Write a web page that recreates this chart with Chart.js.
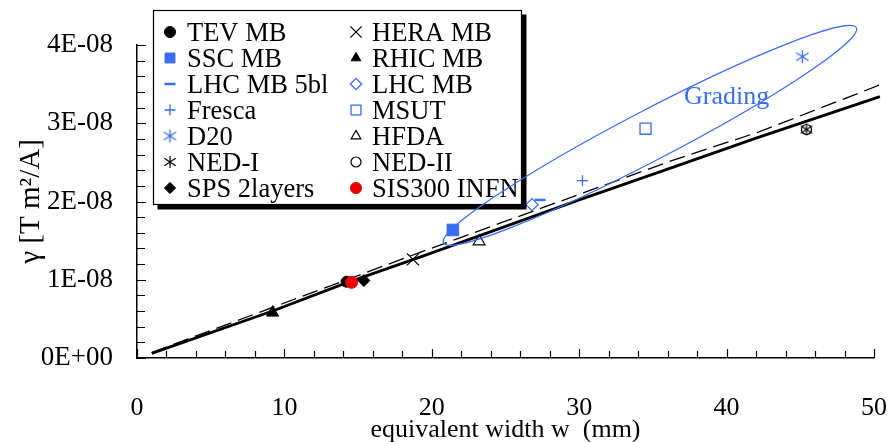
<!DOCTYPE html>
<html>
<head>
<meta charset="utf-8">
<script src="https://cdn.jsdelivr.net/npm/chart.js@4.4.1/dist/chart.umd.min.js"></script>
<style>
html,body{margin:0;padding:0;background:#fff;}
canvas{display:block;}
</style>
</head>
<body>
<canvas id="c" width="891" height="442"></canvas>
<script>
// ---------------- data ----------------
const seriesNames = ['TEV MB','SSC MB','LHC MB 5bl','Fresca','D20','NED-I','SPS 2layers',
                     'HERA MB','RHIC MB','LHC MB','MSUT','HFDA','NED-II','SIS300 INFN'];
const widthMm   = [14.22, 21.43, 27.35, 30.22, 45.14, 45.42, 15.39,
                   18.72, 9.20, 26.80, 34.50, 23.21, 45.42, 14.56];
const gammaTm2A = [0.975e-8, 1.636e-8, 2.02e-8, 2.266e-8, 3.85e-8, 2.92e-8, 0.99e-8,
                   1.26e-8, 0.58e-8, 1.96e-8, 2.93e-8, 1.49e-8, 2.92e-8, 0.967e-8];

// solid fit line
const fitW          = [1.0, 9.2, 14.2, 19.2, 30.0, 36.1, 42.0, 50.4];
const fitGammaSolid = [0.06e-8, 0.60e-8, 0.96e-8, 1.29e-8, 2.02e-8, 2.42e-8, 2.81e-8, 3.34e-8];
// dashed fit line
const dashW          = [1.0, 19.2, 36.1, 42.2, 50.4];
const fitGammaDashed = [0.07e-8, 1.35e-8, 2.51e-8, 2.89e-8, 3.49e-8];

const xTickLabels = ['0','10','20','30','40','50'];
const yTickLabels = ['0E+00','1E-08','2E-08','3E-08','4E-08'];
const xTitle = 'equivalent width w  (mm)';
const yTitle = 'γ [T m²/A]';

// "Grading" annotation: ellipse tips (data units) and label position
const gradingLabel = 'Grading';
const gradingW = 40.0, gradingG = 3.335e-8;
const ellipseTipW = [20.8, 48.8];
const ellipseTipG = [1.47e-8, 4.22e-8];

// ---------------- styles ----------------
const BLUE = '#3a6cf2';
const BLACK = '#000000';
const NONE = 'rgba(0,0,0,0)';
const FONT = "'Liberation Serif', 'Times New Roman', serif";

function asterisk(color, size, lw) {
  const c = document.createElement('canvas');
  c.width = size; c.height = size;
  const g = c.getContext('2d');
  const m = size / 2, r = size / 2 - 1;
  g.strokeStyle = color; g.lineWidth = lw;
  g.beginPath();
  g.moveTo(m, m - r); g.lineTo(m, m + r);
  const dx = r * 0.95, dy = r * 0.62;
  g.moveTo(m - dx, m - dy); g.lineTo(m + dx, m + dy);
  g.moveTo(m + dx, m - dy); g.lineTo(m - dx, m + dy);
  g.stroke();
  return c;
}

const markerStyles = [
  {ps:'circle',   r:5.5, bg:BLACK, bc:BLACK, bw:1},
  {ps:'rect',     r:8.2, bg:BLUE,  bc:BLUE,  bw:1},
  {ps:'line',     r:5.5, bg:BLUE,  bc:BLUE,  bw:2.5},
  {ps:'cross',    r:5.5, bg:BLUE,  bc:BLUE,  bw:1.3},
  {ps:asterisk(BLUE, 15, 1.3), r:7, bg:BLUE, bc:BLUE, bw:1.3},
  {ps:asterisk(BLACK, 14, 1.2), r:7, bg:BLACK, bc:BLACK, bw:1.2},
  {ps:'rectRot',  r:6,   bg:BLACK, bc:BLACK, bw:1},
  {ps:'crossRot', r:8.5, bg:BLACK, bc:BLACK, bw:1.2},
  {ps:'triangle', r:7,   bg:BLACK, bc:BLACK, bw:1},
  {ps:'rectRot',  r:6,   bg:NONE,  bc:BLUE,  bw:1.3},
  {ps:'rect',     r:7.8, bg:NONE,  bc:BLUE,  bw:1.3},
  {ps:'triangle', r:6.8, bg:NONE,  bc:BLACK, bw:1.2},
  {ps:'circle',   r:5,   bg:NONE,  bc:BLACK, bw:1.2},
  {ps:'circle',   r:6,   bg:'#f00000', bc:'#f00000', bw:1}
];

// ---------------- datasets ----------------
const datasets = [];
datasets.push({
  label: 'fit', data: fitW.map((w, i) => ({x: w, y: fitGammaSolid[i]})),
  showLine: true, borderColor: BLACK, borderWidth: 2.8, pointRadius: 0,
  tension: 0, order: 20, clip: false
});
datasets.push({
  label: 'fit dashed', data: dashW.map((w, i) => ({x: w, y: fitGammaDashed[i]})),
  showLine: true, borderColor: BLACK, borderWidth: 1.3, borderDash: [16, 7], pointRadius: 0,
  tension: 0, order: 19, clip: false
});
seriesNames.forEach((name, i) => {
  const st = markerStyles[i];
  datasets.push({
    label: name,
    data: [{x: widthMm[i], y: gammaTm2A[i]}],
    pointStyle: st.ps, pointRadius: st.r, pointHoverRadius: st.r,
    backgroundColor: st.bg, borderColor: st.bc, pointBorderWidth: st.bw,
    showLine: false, order: (i === 13 || i === 12 ? 0 : 1), clip: false
  });
});

// ---------------- plugins ----------------
const inwardTicks = {
  id: 'inwardTicks',
  afterDatasetsDraw(chart) {
    const {ctx, chartArea: ca} = chart;
    const xs = chart.scales.x, ys = chart.scales.y;
    ctx.save();
    ctx.strokeStyle = BLACK; ctx.lineWidth = 1.2;
    ctx.beginPath();
    for (let i = 0; i <= 25; i++) {
      const px = Math.round(xs.getPixelForValue(i * 2)) + 0.5;
      const len = (i % 5 === 0) ? 9 : 7;
      ctx.moveTo(px, ca.bottom); ctx.lineTo(px, ca.bottom - len);
    }
    for (let i = 0; i <= 20; i++) {
      const py = Math.round(ys.getPixelForValue(i * 0.2e-8)) + 0.5;
      const len = (i % 5 === 0) ? 9 : 8;
      ctx.moveTo(ca.left, py); ctx.lineTo(ca.left + len, py);
    }
    ctx.stroke();
    ctx.restore();
  }
};

const H = Chart.helpers;
function drawMarker(ctx, st, x, y, r) {
  ctx.save();
  ctx.fillStyle = st.bg; ctx.strokeStyle = st.bc; ctx.lineWidth = st.bw;
  if (H && H.drawPoint) {
    H.drawPoint(ctx, {pointStyle: st.ps, radius: r, borderWidth: st.bw, rotation: 0}, x, y);
  } else {
    ctx.beginPath(); ctx.arc(x, y, r, 0, Math.PI * 2); ctx.fill(); ctx.stroke();
  }
  ctx.restore();
}

const boxLegend = {
  id: 'boxLegend',
  afterDraw(chart) {
    const ctx = chart.ctx;
    const bx = 153, by = 10, bw = 369, bh = 195, sh = 4.5;
    ctx.save();
    ctx.fillStyle = BLACK;
    ctx.fillRect(bx + sh, by + sh, bw, bh);
    ctx.fillStyle = '#fff';
    ctx.fillRect(bx, by, bw, bh);
    ctx.strokeStyle = BLACK; ctx.lineWidth = 1.2;
    ctx.strokeRect(bx + 0.5, by + 0.5, bw - 1, bh - 1);
    ctx.font = '26.5px ' + FONT;
    ctx.fillStyle = BLACK;
    ctx.textBaseline = 'alphabetic';
    ctx.textAlign = 'left';
    const colMarkerX = [170, 356], colTextX = [187, 372];
    seriesNames.forEach((name, i) => {
      const col = i < 7 ? 0 : 1, row = i % 7;
      const cy = 32 + row * 26;
      const st = markerStyles[i];
      const r = Math.min(st.r, st.ps === 'rect' ? 7 : (st.ps === 'crossRot' ? 8 : 5.6));
      drawMarker(ctx, st, colMarkerX[col], cy, r);
      ctx.fillStyle = BLACK;
      ctx.fillText(name, colTextX[col], cy + 8.8);
    });
    ctx.restore();

    // Grading ellipse + label (drawn on top of legend, as in the reference)
    const xs = chart.scales.x, ys = chart.scales.y;
    const x1 = xs.getPixelForValue(ellipseTipW[0]), y1 = ys.getPixelForValue(ellipseTipG[0]);
    const x2 = xs.getPixelForValue(ellipseTipW[1]), y2 = ys.getPixelForValue(ellipseTipG[1]);
    const cx = (x1 + x2) / 2, cy = (y1 + y2) / 2;
    const a = Math.hypot(x2 - x1, y2 - y1) / 2, b = 25;
    const ang = Math.atan2(y2 - y1, x2 - x1);
    ctx.save();
    ctx.strokeStyle = BLUE; ctx.lineWidth = 1.2;
    ctx.beginPath();
    ctx.ellipse(cx, cy, a, b, ang, 0, Math.PI * 2);
    ctx.stroke();
    ctx.fillStyle = BLUE;
    ctx.font = '26px ' + FONT;
    ctx.textAlign = 'center';
    ctx.textBaseline = 'middle';
    ctx.fillText(gradingLabel, xs.getPixelForValue(gradingW), ys.getPixelForValue(gradingG));
    ctx.restore();
  }
};

// ---------------- chart ----------------
Chart.defaults.font.family = FONT;
Chart.defaults.color = BLACK;

new Chart(document.getElementById('c'), {
  type: 'scatter',
  data: {datasets},
  options: {
    responsive: false,
    devicePixelRatio: 1,
    animation: false,
    events: [],
    layout: {padding: {left: 0, right: 17, top: 45, bottom: 0}},
    plugins: {legend: {display: false}, tooltip: {enabled: false}},
    scales: {
      x: {
        type: 'linear', position: 'bottom', min: 0, max: 50,
        ticks: {stepSize: 10, padding: 0, color: BLACK, font: {size: 26},
                maxRotation: 0, autoSkip: false,
                callback: (v, i) => xTickLabels[i]},
        grid: {display: false, drawTicks: true, tickLength: 35},
        border: {display: true, color: BLACK, width: 1.5},
        title: {display: true, text: xTitle, color: BLACK,
                font: {size: 26, lineHeight: 0.9}, padding: {top: 0, bottom: 0}},
        afterFit: s => { s.height = 84; }
      },
      y: {
        type: 'linear', position: 'left', min: 0, max: 4e-8,
        ticks: {stepSize: 1e-8, padding: 0, color: BLACK, font: {size: 27},
                autoSkip: false,
                callback: (v, i) => yTickLabels[i]},
        grid: {display: false, drawTicks: true, tickLength: 24},
        border: {display: true, color: BLACK, width: 1.5},
        title: {display: true, text: yTitle, color: BLACK,
                font: {size: 29}, padding: {top: 14, bottom: 0}},
        afterFit: s => { s.width = 137; }
      }
    }
  },
  plugins: [inwardTicks, boxLegend]
});
</script>
</body>
</html>
